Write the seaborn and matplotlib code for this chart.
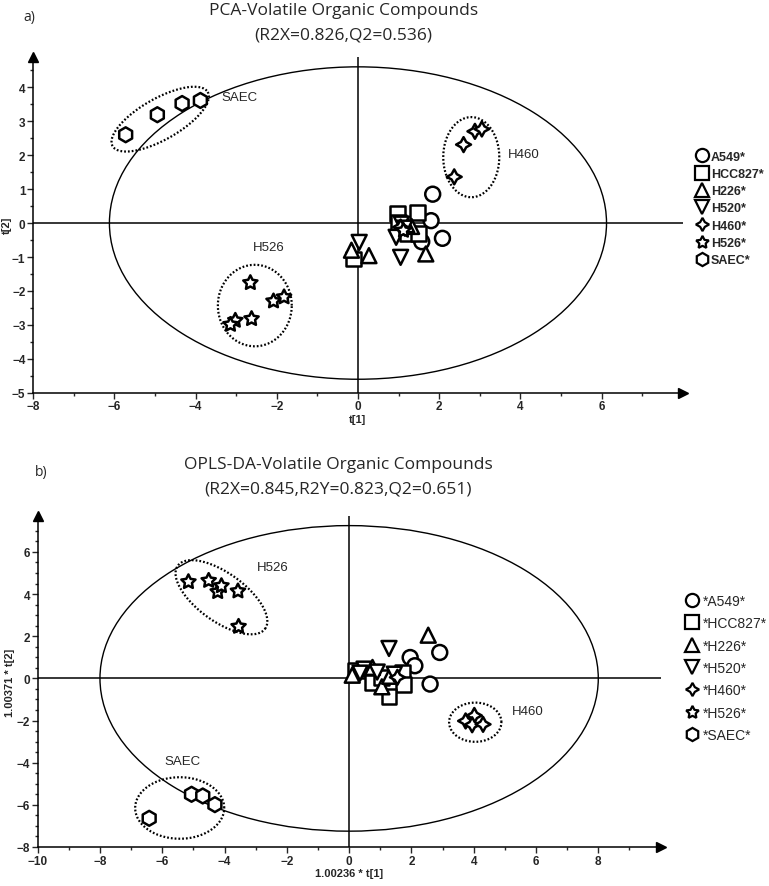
import numpy as np
import pandas as pd
import matplotlib
matplotlib.use("Agg")
import matplotlib.pyplot as plt
import seaborn as sns
from matplotlib.lines import Line2D
from matplotlib.patches import Ellipse

# ---- data ----
groups = ["A549", "HCC827", "H226", "H520", "H460", "H526", "SAEC"]
markers = {"A549": "o", "HCC827": "s", "H226": "^", "H520": "v",
           "H460": (4, 1, 0), "H526": (5, 1, 0), "SAEC": "h"}

# a) PCA scores
pca_x = {
    "A549": [1.84, 1.80, 2.08, 1.57],
    "HCC827": [0.97, 1.47, 0.99, 1.21, 1.48, -0.10],
    "H226": [-0.16, 0.27, 1.32, 1.67, 1.20],
    "H520": [0.03, 0.94, 1.05, 1.07, 1.15],
    "H460": [2.37, 2.60, 2.88, 3.05, 1.05],
    "H526": [-2.65, -2.08, -1.82, -2.62, -3.02, -3.14, 1.12],
    "SAEC": [-5.72, -4.94, -4.33, -3.88],
}
pca_y = {
    "A549": [0.85, 0.07, -0.45, -0.55],
    "HCC827": [0.29, 0.31, 0.02, -0.32, -0.32, -1.06],
    "H226": [-0.80, -0.96, -0.10, -0.91, -0.05],
    "H520": [-0.57, -0.42, -1.01, -0.03, -0.15],
    "H460": [1.36, 2.31, 2.70, 2.77, -0.12],
    "H526": [-1.76, -2.30, -2.18, -2.82, -2.87, -2.99, -0.22],
    "SAEC": [2.60, 3.19, 3.52, 3.61],
}

# b) OPLS-DA scores
opls_x = {
    "A549": [2.91, 1.96, 2.11, 2.60],
    "HCC827": [0.20, 0.55, 0.75, 1.71, 1.76, 1.28, 1.05],
    "H226": [2.54, 0.75, 0.10, 1.05, 1.30],
    "H520": [1.28, 0.48, 0.90, 1.45, 0.35],
    "H460": [3.74, 4.02, 3.95, 4.30, 1.55],
    "H526": [-5.16, -4.51, -4.22, -4.10, -3.57, -3.55],
    "SAEC": [-6.42, -5.06, -4.70, -4.31],
}
opls_y = {
    "A549": [1.23, 0.99, 0.60, -0.27],
    "HCC827": [0.40, 0.35, -0.19, 0.28, -0.27, -0.86, 0.05],
    "H226": [2.05, 0.52, 0.15, -0.40, 0.10],
    "H520": [1.42, 0.44, 0.30, 0.20, 0.25],
    "H460": [-2.02, -1.76, -2.20, -2.18, 0.05],
    "H526": [4.58, 4.64, 4.11, 4.39, 4.14, 2.46],
    "SAEC": [-6.64, -5.50, -5.58, -5.99],
}

# group ellipses: centre, conjugate half-axis vectors
pca_rings = [((-4.87, 3.06), (1.17, 0.80), (0.26, -0.52)),
             ((-2.54, -2.43), (0.91, 0), (0, 1.20)),
             ((2.79, 1.94), (0.69, 0), (0, 1.18))]
opls_rings = [((-4.10, 3.85), (1.40, -1.50), (0.46, 0.92)),
              ((-5.44, -6.15), (1.43, 0), (0, 1.46)),
              ((4.05, -2.08), (0.84, 0), (0, 0.93))]
pca_tags = [("SAEC", -3.36, 3.71), ("H526", -2.59, -0.71), ("H460", 3.68, 2.02)]
opls_tags = [("H526", -2.97, 5.29), ("SAEC", -5.94, -3.94), ("H460", 5.24, -1.57)]


def frame(xd, yd):
    rows = []
    for g in groups:
        for a, b in zip(xd[g], yd[g]):
            rows.append((g, a, b))
    return pd.DataFrame(rows, columns=["group", "x", "y"])


sns.set_style("white")
plt.rcParams["font.family"] = ["Liberation Sans", "DejaVu Sans"]

fig = plt.figure(figsize=(7.69, 8.87), dpi=100)
ax1 = fig.add_axes([0.043, 0.556, 0.845, 0.379])
ax2 = fig.add_axes([0.049, 0.044, 0.81, 0.373])


def draw(ax, df, xlim, ylim, big, rings, tags, xticks, yticks, xl, yl, ylx):
    ax.add_patch(Ellipse((0, 0), 2 * big[0], 2 * big[1], fill=False,
                         lw=1, ec="black", zorder=1))
    ax.axhline(0, color="black", lw=1.1, zorder=1)
    ax.axvline(0, color="black", lw=1.1, zorder=1)
    t = np.linspace(0, 2 * np.pi, 200)
    for (cx, cy), u, v in rings:
        ax.plot(cx + u[0] * np.cos(t) + v[0] * np.sin(t),
                cy + u[1] * np.cos(t) + v[1] * np.sin(t),
                color="black", lw=1.6, ls=(0, (0.8, 0.9)), zorder=2)
    sns.scatterplot(data=df, x="x", y="y", style="group", markers=markers,
                    style_order=groups, color="white", edgecolor="black",
                    linewidth=1.8, s=115, legend=False, ax=ax, zorder=3)
    for txt, tx, ty in tags:
        ax.text(tx, ty, txt, fontsize=9.5, ha="left", va="center")
    ax.set_xlim(xlim)
    ax.set_ylim(ylim)
    ax.set_xticks(xticks)
    ax.set_yticks(yticks)
    ax.set_xticks(np.arange(xlim[0], xlim[1], 1), minor=True)
    ax.set_yticks(np.arange(ylim[0], ylim[1], 0.5), minor=True)
    for s in ["top", "right"]:
        ax.spines[s].set_visible(False)
    for s in ["left", "bottom"]:
        ax.spines[s].set_color("black")
        ax.spines[s].set_linewidth(1.1)
    ax.tick_params(which="major", direction="out", length=4, width=1,
                   labelsize=8.5, left=True, bottom=True, pad=1.5)
    ax.tick_params(which="minor", direction="out", length=2, width=1,
                   left=True, bottom=True)
    for lab in ax.get_xticklabels() + ax.get_yticklabels():
        lab.set_fontweight("bold")
    ax.set_xlabel(xl, fontsize=8, fontweight="bold", labelpad=1)
    ax.set_ylabel(yl, fontsize=8, fontweight="bold")
    ax.yaxis.set_label_coords(ylx, 0.5)
    ax.plot(1, 0, marker=">", color="black", ms=7, transform=ax.transAxes,
            clip_on=False)
    ax.plot(0, 1, marker="^", color="black", ms=7, transform=ax.transAxes,
            clip_on=False)


draw(ax1, frame(pca_x, pca_y), (-8, 8), (-5, 4.9), (6.12, 4.6),
     pca_rings, pca_tags, range(-8, 7, 2), range(-5, 5, 1), "t[1]", "t[2]",
     -0.033)
draw(ax2, frame(opls_x, opls_y), (-10, 10), (-8, 7.7), (8.0, 7.25),
     opls_rings, opls_tags, range(-10, 9, 2), range(-8, 7, 2),
     "1.00236 * t[1]", "1.00371 * t[2]", -0.037)


def handles():
    return [Line2D([], [], ls="", marker=markers[g], mfc="white",
                   mec="black", mew=1.6, ms=9.5) for g in groups]


fig.legend(handles(), [g + "*" for g in groups], loc="upper left",
           bbox_to_anchor=(0.897, 0.836), frameon=False, handlelength=1,
           handletextpad=0.2, labelspacing=0.42, borderpad=0,
           prop={"size": 9, "weight": "bold"})
fig.legend(handles(), ["*" + g + "*" for g in groups], loc="upper left",
           bbox_to_anchor=(0.882, 0.337), frameon=False, handlelength=1,
           handletextpad=0.3, labelspacing=0.6, borderpad=0,
           prop={"size": 10})

tfont = ["Open Sans", "DejaVu Sans"]
fig.text(0.447, 0.988, "PCA-Volatile Organic Compounds", ha="center",
         va="center", fontsize=12.5, family=tfont)
fig.text(0.447, 0.960, "(R2X=0.826,Q2=0.536)", ha="center", va="center",
         fontsize=12.5, family=tfont)
fig.text(0.03, 0.98, "a)", ha="left", va="center", fontsize=10, family=tfont)
fig.text(0.44, 0.476, "OPLS-DA-Volatile Organic Compounds", ha="center",
         va="center", fontsize=12.5, family=tfont)
fig.text(0.44, 0.448, "(R2X=0.845,R2Y=0.823,Q2=0.651)", ha="center",
         va="center", fontsize=12.5, family=tfont)
fig.text(0.045, 0.467, "b)", ha="left", va="center", fontsize=10, family=tfont)

fig.savefig("out.png", dpi=100)
